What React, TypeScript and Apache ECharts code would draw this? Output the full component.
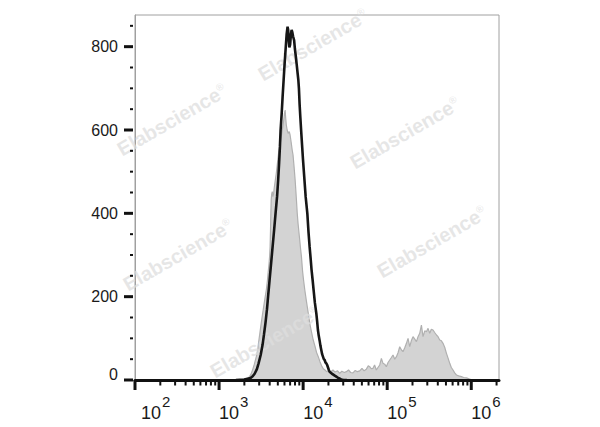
import React, { useEffect, useRef } from "react";
import * as echarts from "echarts";

// log10 of fluorescence intensity
const xMinLog = 2;
const xMaxLog = 6.33;
const yMax = 876;
const decadeExponents = [2, 3, 4, 5, 6];
const yMajorStep = 200;
const yMinorStep = 50;
const watermarkText = "Elabscience";

// [log10 intensity, count] — filled grey (control) histogram
const grayHistogram: [number, number][] = [
  [3.25, 0], [3.3, 2], [3.34, 5], [3.363, 8], [3.38, 14], [3.4, 25], [3.42, 38], [3.443, 56], [3.46, 72], [3.47, 90],
  [3.485, 112], [3.502, 137], [3.515, 155], [3.53, 175], [3.545, 195], [3.562, 216], [3.575, 238], [3.585, 260], [3.595, 280], [3.601, 296],
  [3.607, 320], [3.612, 360], [3.616, 400], [3.62, 432], [3.626, 446], [3.633, 452], [3.64, 440], [3.648, 446], [3.657, 462], [3.668, 478],
  [3.68, 495], [3.69, 512], [3.7, 530], [3.71, 548], [3.722, 560], [3.735, 578], [3.748, 595], [3.76, 610], [3.77, 625], [3.778, 640],
  [3.786, 648], [3.792, 630], [3.8, 612], [3.81, 600], [3.822, 592], [3.835, 596], [3.845, 588], [3.858, 570], [3.87, 552], [3.88, 540],
  [3.893, 510], [3.905, 480], [3.918, 440], [3.93, 400], [3.94, 375], [3.955, 345], [3.968, 318], [3.98, 296], [3.993, 262], [4.005, 240],
  [4.02, 216], [4.04, 188], [4.06, 162], [4.08, 135], [4.1, 115], [4.12, 96], [4.14, 82], [4.16, 66], [4.18, 56], [4.2, 44],
  [4.22, 34], [4.24, 27], [4.26, 24], [4.28, 20], [4.3, 22], [4.32, 18], [4.355, 24], [4.38, 19], [4.41, 22], [4.435, 16],
  [4.46, 21], [4.49, 18], [4.514, 20], [4.54, 24], [4.565, 18], [4.593, 17], [4.62, 23], [4.645, 20], [4.673, 22], [4.7, 28],
  [4.725, 22], [4.752, 26], [4.775, 34], [4.792, 32], [4.81, 27], [4.831, 28], [4.85, 36], [4.871, 24], [4.89, 30], [4.911, 36],
  [4.931, 52], [4.95, 40], [4.97, 38], [4.99, 32], [5.01, 42], [5.03, 48], [5.05, 54], [5.069, 60], [5.09, 50], [5.11, 56],
  [5.13, 66], [5.149, 80], [5.17, 72], [5.188, 68], [5.21, 78], [5.229, 88], [5.248, 100], [5.268, 80], [5.287, 94], [5.307, 104],
  [5.328, 98], [5.348, 92], [5.367, 104], [5.387, 112], [5.407, 132], [5.426, 104], [5.447, 118], [5.467, 116], [5.486, 124], [5.506, 112],
  [5.525, 122], [5.545, 120], [5.565, 114], [5.586, 108], [5.605, 104], [5.625, 96], [5.645, 94], [5.664, 88], [5.685, 78], [5.705, 64],
  [5.725, 52], [5.744, 40], [5.763, 30], [5.783, 24], [5.803, 17], [5.824, 12], [5.85, 10], [5.883, 8], [5.91, 6], [5.943, 5],
  [5.98, 2], [6.02, 0],
];

// [log10 intensity, count] — black outline (stained) histogram
const blackHistogram: [number, number][] = [
  [3.2, 0], [3.3, 1], [3.34, 3], [3.375, 5], [3.4, 9], [3.423, 15], [3.45, 26], [3.47, 40], [3.495, 60], [3.518, 85],
  [3.535, 110], [3.554, 140], [3.57, 170], [3.583, 200], [3.6, 238], [3.619, 280], [3.637, 320], [3.655, 360], [3.672, 400], [3.69, 440],
  [3.703, 480], [3.714, 520], [3.724, 560], [3.732, 600], [3.745, 640], [3.756, 680], [3.768, 720], [3.78, 760], [3.792, 795], [3.804, 830],
  [3.815, 848], [3.822, 840], [3.829, 815], [3.836, 798], [3.845, 805], [3.855, 830], [3.863, 840], [3.872, 834], [3.88, 825], [3.893, 815],
  [3.902, 795], [3.911, 780], [3.923, 758], [3.935, 735], [3.943, 720], [3.95, 700], [3.958, 662], [3.967, 630], [3.976, 600], [3.987, 565],
  [3.998, 530], [4.014, 485], [4.03, 440], [4.05, 400], [4.064, 355], [4.077, 320], [4.09, 290], [4.1, 265], [4.113, 240], [4.125, 215],
  [4.14, 185], [4.157, 160], [4.167, 140], [4.176, 120], [4.186, 106], [4.196, 95], [4.206, 82], [4.216, 72], [4.226, 62], [4.236, 56],
  [4.246, 50], [4.256, 48], [4.266, 42], [4.276, 40], [4.286, 36], [4.296, 30], [4.306, 24], [4.315, 20], [4.333, 17], [4.35, 14],
  [4.372, 11], [4.395, 8], [4.41, 6], [4.425, 4], [4.44, 3], [4.455, 1], [4.48, 0], [4.52, 0],
];

const watermarkSpots: [number, number][] = [
  [313, 45], [172, 120], [405, 133], [178, 255], [432, 242], [265, 342],
];

export default function App() {
  const ref = useRef<HTMLDivElement>(null);

  useEffect(() => {
    if (!ref.current) return;
    const chart = echarts.init(ref.current, undefined, { renderer: "svg" });

    const xTicks: [number, number][] = [];
    decadeExponents.forEach((e) => {
      for (let k = 1; k <= 9; k++) {
        const v = e + Math.log10(k);
        if (v <= xMaxLog) xTicks.push([v, k === 1 ? 1 : 0]);
      }
    });
    const yTicks: [number, number][] = [];
    for (let v = 0; v <= yMax; v += yMinorStep) yTicks.push([xMinLog, v]);

    const font = "'Liberation Sans', Arial, sans-serif";

    chart.setOption({
      animation: false,
      grid: {
        left: 135,
        right: 101,
        top: 15,
        bottom: 47,
        show: true,
        borderColor: "#a0a0a0",
        borderWidth: 1,
        backgroundColor: "transparent",
      },
      xAxis: {
        type: "value",
        min: xMinLog,
        max: xMaxLog,
        interval: 1,
        z: 10,
        axisLine: { show: true, onZero: false, lineStyle: { color: "#111", width: 3 } },
        axisTick: { show: false },
        splitLine: { show: false },
        axisLabel: {
          margin: 12,
          align: "left",
          formatter: (v: number) => {
            if (Math.abs(v - Math.round(v)) > 1e-6) return "";
            const e = Math.round(v);
            return e === xMinLog ? `{b0|10}{s|${e}}` : `{b|10}{s|${e}}`;
          },
          rich: {
            b: { fontSize: 18, fontFamily: font, color: "#1a1a1a", padding: [12, 1, 0, 0] },
            b0: { fontSize: 18, fontFamily: font, color: "#1a1a1a", padding: [12, 1, 0, 6] },
            s: { fontSize: 15, fontFamily: font, color: "#1a1a1a", padding: [0, 0, 12, 0] },
          },
        },
      },
      yAxis: {
        type: "value",
        min: 0,
        max: yMax,
        interval: yMajorStep,
        axisLine: { show: true, lineStyle: { color: "#a0a0a0", width: 1 } },
        axisTick: { show: false },
        splitLine: { show: false },
        axisLabel: {
          margin: 17,
          fontSize: 16,
          fontFamily: font,
          color: "#1a1a1a",
          formatter: (v: number) =>
            v === 0 ? "{z|0}" : v % yMajorStep === 0 ? String(v) : "",
          rich: {
            z: { fontSize: 16, fontFamily: font, color: "#1a1a1a", padding: [0, 0, 12, 0] },
          },
        },
      },
      graphic: watermarkSpots.map(([x, y]) => ({
        type: "text",
        x,
        y,
        rotation: Math.PI / 6,
        z: 2,
        silent: true,
        style: {
          text: `{a|${watermarkText}}{r|®}`,
          align: "center",
          verticalAlign: "middle",
          rich: {
            a: { fontSize: 20, fontWeight: "bold", fontFamily: font, fill: "rgba(222,222,222,0.75)" },
            r: { fontSize: 10, fontFamily: font, fill: "rgba(222,222,222,0.75)", verticalAlign: "top", lineHeight: 10 },
          },
        },
      })),
      series: [
        {
          type: "line",
          data: grayHistogram,
          z: 1,
          showSymbol: false,
          symbol: "none",
          lineStyle: { color: "#b0b0b0", width: 1.2 },
          areaStyle: { color: "#d3d3d3", opacity: 1 },
        },
        {
          type: "line",
          data: blackHistogram,
          z: 3,
          showSymbol: false,
          symbol: "none",
          lineStyle: { color: "#161616", width: 2.6 },
        },
        {
          type: "custom",
          z: 11,
          silent: true,
          data: xTicks,
          renderItem: (_p: any, api: any) => {
            const major = api.value(1) === 1;
            const pt = api.coord([api.value(0), 0]);
            return {
              type: "line",
              shape: { x1: pt[0], y1: pt[1], x2: pt[0], y2: pt[1] + (major ? 10 : 5.5) },
              style: { stroke: "#111", lineWidth: major ? 3 : 2 },
            };
          },
        },
        {
          type: "custom",
          z: 11,
          silent: true,
          data: yTicks,
          renderItem: (_p: any, api: any) => {
            const v = api.value(1);
            const major = v % yMajorStep === 0;
            const pt = api.coord([api.value(0), v]);
            return {
              type: "line",
              shape: { x1: pt[0] - (major ? 11 : 5), y1: pt[1], x2: pt[0] - 2, y2: pt[1] },
              style: { stroke: "#111", lineWidth: major ? 3 : 2 },
            };
          },
        },
      ],
    });

    return () => chart.dispose();
  }, []);

  return (
    <div
      ref={ref}
      style={{ position: "absolute", left: 0, top: 0, width: 600, height: 427 }}
    />
  );
}
